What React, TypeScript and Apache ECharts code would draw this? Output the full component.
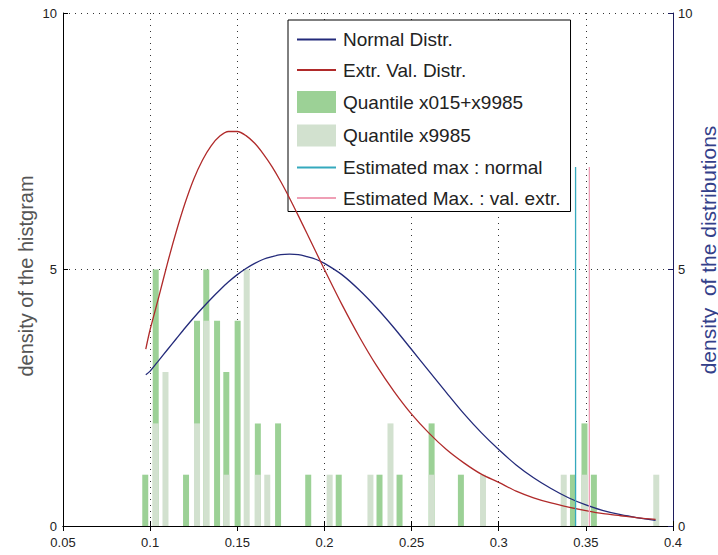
import React, { useEffect, useRef } from "react";
import * as echarts from "echarts";

// ---- Data ----
// Histogram bin centres (x) and heights of the two overlaid histograms
const BIN_X = [
  0.0972, 0.1032, 0.1088, 0.1206, 0.1269, 0.1322, 0.1384, 0.1437, 0.1502, 0.1554,
  0.1618, 0.1672, 0.1734, 0.1907, 0.2030, 0.2082, 0.2264, 0.2316, 0.2379, 0.2431,
  0.2615, 0.2783, 0.2910, 0.3373, 0.3426, 0.3492, 0.3546, 0.3904,
];
const DARK_COUNTS = [
  1, 5, 0, 1, 4, 5, 4, 3, 4, 0,
  2, 0, 2, 1, 0, 1, 0, 1, 0, 1,
  2, 1, 0, 0, 1, 2, 1, 0,
];
const LIGHT_COUNTS = [
  0, 2, 3, 0, 2, 4, 0, 1, 0, 5,
  1, 1, 0, 0, 1, 0, 1, 0, 2, 0,
  1, 0, 1, 1, 0, 1, 0, 1,
];

// Density curves
const CURVE_X = [
  0.0975, 0.100, 0.105, 0.110, 0.115, 0.120, 0.125, 0.130, 0.135, 0.140, 0.145, 0.150,
  0.155, 0.160, 0.165, 0.170, 0.175, 0.180, 0.185, 0.190, 0.195, 0.200, 0.21, 0.22, 0.23,
  0.24, 0.25, 0.26, 0.27, 0.28, 0.29, 0.30, 0.31, 0.32, 0.33, 0.34, 0.35, 0.36, 0.37, 0.38, 0.39,
];
const NORMAL_Y = [
  2.95, 3.02, 3.23, 3.44, 3.65, 3.86, 4.06, 4.25, 4.43, 4.60, 4.76, 4.90,
  5.02, 5.12, 5.20, 5.25, 5.29, 5.30, 5.29, 5.25, 5.20, 5.12, 4.90, 4.60, 4.25,
  3.86, 3.44, 3.02, 2.60, 2.19, 1.82, 1.49, 1.19, 0.94, 0.73, 0.55, 0.41, 0.30, 0.22, 0.16, 0.11,
];
const EXTREME_Y = [
  3.45, 3.83, 4.47, 5.13, 5.74, 6.29, 6.76, 7.13, 7.41, 7.60, 7.69, 7.69,
  7.61, 7.46, 7.25, 7.00, 6.71, 6.39, 6.05, 5.70, 5.35, 5.00, 4.32, 3.69, 3.12,
  2.62, 2.18, 1.81, 1.49, 1.23, 1.01, 0.85, 0.68, 0.55, 0.45, 0.37, 0.30, 0.24, 0.20, 0.16, 0.13,
];

// Estimated maxima (vertical markers)
const EST_MAX_NORMAL = 0.3441;
const EST_MAX_EXTREME = 0.3520;
const EST_MAX_HEIGHT = 7;

const LEGEND_NAMES = [
  "Normal Distr.",
  "Extr. Val. Distr.",
  "Quantile x015+x9985",
  "Quantile x9985",
  "Estimated max : normal",
  "Estimated Max. : val. extr.",
];

const FONT = "'Liberation Sans', Arial, sans-serif";

export default function App() {
  const ref = useRef<HTMLDivElement>(null);

  useEffect(() => {
    if (!ref.current) return;
    const chart = echarts.init(ref.current, undefined, { renderer: "svg" });

    const darkData = BIN_X.map((x, i) => [x, DARK_COUNTS[i]]).filter((d) => d[1] > 0);
    const lightData = BIN_X.map((x, i) => [x, LIGHT_COUNTS[i]]).filter((d) => d[1] > 0);
    const normalData = CURVE_X.map((x, i) => [x, NORMAL_Y[i]]);
    const extremeData = CURVE_X.map((x, i) => [x, EXTREME_Y[i]]);

    const dotted = { type: [1, 5] as any, color: "#333", width: 1 };
    const hideSymbol = { opacity: 0, borderWidth: 0 };

    chart.setOption({
      animation: false,
      backgroundColor: "#fff",
      textStyle: { fontFamily: FONT },
      grid: { left: 63, right: 45, top: 13, bottom: 29, containLabel: false },
      legend: {
        orient: "vertical",
        left: 288,
        top: 20,
        backgroundColor: "#fff",
        borderColor: "#000",
        borderWidth: 1,
        borderRadius: 0,
        padding: [10, 10, 4, 8],
        itemWidth: 39,
        itemHeight: 22,
        itemGap: 11.5,
        textStyle: { fontSize: 19, color: "#222", fontFamily: FONT, padding: [0, 0, 0, 2] },
        data: [
          { name: LEGEND_NAMES[0], itemStyle: hideSymbol },
          { name: LEGEND_NAMES[1], itemStyle: hideSymbol },
          { name: LEGEND_NAMES[2], icon: "rect" },
          { name: LEGEND_NAMES[3], icon: "rect" },
          { name: LEGEND_NAMES[4], itemStyle: hideSymbol },
          { name: LEGEND_NAMES[5], itemStyle: hideSymbol },
        ],
        selectedMode: false,
      },
      xAxis: [
        {
          type: "value",
          position: "bottom",
          min: 0.05,
          max: 0.4,
          interval: 0.05,
          axisLine: { show: true, lineStyle: { color: "#000", width: 1 } },
          axisTick: { show: true, inside: true, length: 5, lineStyle: { color: "#000" } },
          axisLabel: {
            fontSize: 13,
            color: "#222",
            margin: 10,
            fontFamily: FONT,
            formatter: (v: number) => String(+v.toFixed(2)),
          },
          splitLine: { show: true, lineStyle: dotted },
        },
        {
          type: "value",
          position: "top",
          min: 0.05,
          max: 0.4,
          interval: 0.05,
          axisLine: { show: true, lineStyle: { color: "#000", width: 1 } },
          axisTick: { show: true, inside: true, length: 5, lineStyle: { color: "#000" } },
          axisLabel: { show: false },
          splitLine: { show: false },
        },
      ],
      yAxis: [
        {
          type: "value",
          position: "left",
          min: 0,
          max: 10,
          interval: 5,
          axisLine: { show: true, lineStyle: { color: "#000", width: 1 } },
          axisTick: { show: true, inside: true, length: 5, lineStyle: { color: "#000" } },
          axisLabel: { fontSize: 13, color: "#222", margin: 6, fontFamily: FONT },
          splitLine: { show: true, lineStyle: dotted },
        },
        {
          type: "value",
          position: "right",
          min: 0,
          max: 10,
          interval: 5,
          axisLine: { show: true, lineStyle: { color: "#1c1c5c", width: 1 } },
          axisTick: { show: true, inside: true, length: 5, lineStyle: { color: "#1c1c5c" } },
          axisLabel: { fontSize: 13, color: "#222", margin: 5, fontFamily: FONT },
          splitLine: { show: false },
        },
      ],
      graphic: [
        {
          type: "text",
          x: 26,
          y: 276,
          rotation: Math.PI / 2,
          style: {
            text: "density of the histgram",
            fontSize: 20,
            fontFamily: FONT,
            fill: "#555",
            textAlign: "center",
            textVerticalAlign: "middle",
          },
        },
        {
          type: "text",
          x: 708,
          y: 250,
          rotation: Math.PI / 2,
          style: {
            text: "density  of the distributions",
            fontSize: 21,
            fontFamily: FONT,
            fill: "#34408a",
            textAlign: "center",
            textVerticalAlign: "middle",
          },
        },
      ],
      series: [
        {
          name: LEGEND_NAMES[2],
          type: "bar",
          data: darkData,
          barWidth: 6,
          barGap: "-100%",
          itemStyle: { color: "#9cd196" },
          z: 2,
        },
        {
          name: LEGEND_NAMES[3],
          type: "bar",
          data: lightData,
          barWidth: 6,
          barGap: "-100%",
          itemStyle: { color: "#d2e1cf" },
          z: 3,
        },
        {
          name: LEGEND_NAMES[0],
          type: "line",
          data: normalData,
          smooth: 0.3,
          symbol: "none",
          lineStyle: { color: "#232a7a", width: 1.3 },
          itemStyle: { color: "#232a7a" },
          z: 5,
        },
        {
          name: LEGEND_NAMES[1],
          type: "line",
          data: extremeData,
          smooth: 0.3,
          symbol: "none",
          lineStyle: { color: "#b02a2a", width: 1.3 },
          itemStyle: { color: "#b02a2a" },
          z: 5,
        },
        {
          name: LEGEND_NAMES[4],
          type: "line",
          data: [
            [EST_MAX_NORMAL, 0],
            [EST_MAX_NORMAL, EST_MAX_HEIGHT],
          ],
          symbol: "none",
          lineStyle: { color: "#35a9bd", width: 1.3 },
          itemStyle: { color: "#35a9bd" },
          z: 5,
        },
        {
          name: LEGEND_NAMES[5],
          type: "line",
          data: [
            [EST_MAX_EXTREME, 0],
            [EST_MAX_EXTREME, EST_MAX_HEIGHT],
          ],
          symbol: "none",
          lineStyle: { color: "#ef9fb5", width: 1.3 },
          itemStyle: { color: "#ef9fb5" },
          z: 5,
        },
      ],
    });

    return () => chart.dispose();
  }, []);

  return (
    <div
      ref={ref}
      style={{ position: "fixed", left: 0, top: 0, width: 718, height: 555, background: "#fff" }}
    />
  );
}
